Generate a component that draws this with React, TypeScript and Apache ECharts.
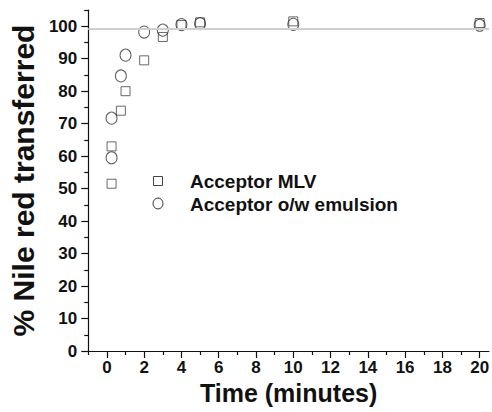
import React, { useEffect, useRef } from "react";
import * as echarts from "echarts";

const timeMLV = [0.25, 0.25, 0.75, 1, 2, 3, 4, 5, 10, 20];
const valuesMLV = [51.5, 63, 74, 80, 89.5, 96.7, 100.4, 101.2, 101.5, 101];
const timeEmulsion = [0.25, 0.25, 0.75, 1, 2, 3, 4, 5, 10, 20];
const valuesEmulsion = [59.5, 71.7, 84.7, 91.1, 98.2, 98.8, 100.5, 100.8, 100.6, 100.3];
const referenceLevel = 99.3;
const xMajorTicks = [0, 2, 4, 6, 8, 10, 12, 14, 16, 18, 20];
const xMinorTicks = [-1, 1, 3, 5, 7, 9, 11, 13, 15, 17, 19];
const yMajorTicks = [0, 10, 20, 30, 40, 50, 60, 70, 80, 90, 100];
const yMinorTicks = [5, 15, 25, 35, 45, 55, 65, 75, 85, 95, 105];
const legendNames = ["Acceptor MLV", "Acceptor o/w emulsion"];

const FONT = "'Liberation Sans', Arial, Helvetica, sans-serif";
const AXIS_COLOR = "#111";

export default function App() {
  const ref = useRef<HTMLDivElement>(null);
  useEffect(() => {
    if (!ref.current) return;
    const chart = echarts.init(ref.current, null, { renderer: "svg" });
    const grid = { left: 83, top: 10, width: 409, height: 341 };
    const baseX = {
      type: "value",
      min: -1,
      max: 20.5,
      gridIndex: 0,
      splitLine: { show: false },
    };
    const baseY = {
      type: "value",
      min: 0,
      max: 105,
      gridIndex: 0,
      splitLine: { show: false },
    };
    chart.setOption({
      animation: false,
      backgroundColor: "#fff",
      grid,
      xAxis: [
        {
          ...baseX,
          name: "Time (minutes)",
          nameLocation: "middle",
          nameGap: 25,
          nameTextStyle: { fontFamily: FONT, fontWeight: "bold", fontSize: 25, color: "#111" },
          axisLine: { show: true, onZero: false, lineStyle: { color: AXIS_COLOR, width: 1.2 } },
          axisTick: { show: true, inside: false, length: 7, customValues: xMajorTicks, lineStyle: { color: AXIS_COLOR, width: 1.2 } },
          axisLabel: {
            show: true,
            customValues: xMajorTicks,
            margin: 8,
            fontFamily: FONT,
            fontWeight: "bold",
            fontSize: 17,
            color: "#111",
          },
        },
        {
          ...baseX,
          position: "bottom",
          offset: 0,
          axisLine: { show: false, onZero: false },
          axisTick: { show: true, inside: false, length: 4, customValues: xMinorTicks, lineStyle: { color: AXIS_COLOR, width: 1.2 } },
          axisLabel: { show: false },
        },
      ],
      yAxis: [
        {
          ...baseY,
          name: "% Nile red transferred",
          nameLocation: "middle",
          nameGap: 43,
          nameTextStyle: { fontFamily: FONT, fontWeight: "bold", fontSize: 30, color: "#111" },
          axisLine: { show: true, onZero: false, lineStyle: { color: AXIS_COLOR, width: 1.2 } },
          axisTick: { show: true, inside: false, length: 7, customValues: yMajorTicks, lineStyle: { color: AXIS_COLOR, width: 1.2 } },
          axisLabel: {
            show: true,
            customValues: yMajorTicks,
            margin: 11,
            fontFamily: FONT,
            fontWeight: "bold",
            fontSize: 17,
            color: "#111",
          },
        },
        {
          ...baseY,
          position: "left",
          offset: 0,
          axisLine: { show: false, onZero: false },
          axisTick: { show: true, inside: false, length: 4, customValues: yMinorTicks, lineStyle: { color: AXIS_COLOR, width: 1.2 } },
          axisLabel: { show: false },
        },
      ],
      series: [
        {
          name: legendNames[0],
          type: "scatter",
          xAxisIndex: 0,
          yAxisIndex: 0,
          symbol: "rect",
          symbolSize: [9, 9],
          itemStyle: { color: "rgba(255,255,255,0)", borderColor: "#444", borderWidth: 1 },
          data: timeMLV.map((t, i) => [t, valuesMLV[i]]),
          markLine: {
            silent: true,
            symbol: "none",
            label: { show: false },
            lineStyle: { color: "#cfcfcf", width: 2, type: "solid" },
            data: [{ yAxis: referenceLevel }],
          },
          z: 3,
        },
        {
          name: legendNames[1],
          type: "scatter",
          xAxisIndex: 0,
          yAxisIndex: 0,
          symbol: "circle",
          symbolSize: [11, 12],
          itemStyle: { color: "rgba(255,255,255,0)", borderColor: "#333", borderWidth: 1 },
          data: timeEmulsion.map((t, i) => [t, valuesEmulsion[i]]),
          z: 3,
        },
      ],
      graphic: [
        {
          type: "rect",
          shape: { x: 153.5, y: 176.5, width: 9, height: 9 },
          style: { fill: "#fff", stroke: "#444", lineWidth: 1 },
        },
        {
          type: "text",
          x: 190,
          y: 181,
          style: {
            text: legendNames[0],
            fontFamily: FONT,
            fontWeight: "bold",
            fontSize: 19,
            fill: "#111",
            verticalAlign: "middle",
          },
        },
        {
          type: "ellipse",
          shape: { cx: 158, cy: 203.5, rx: 5, ry: 5.5 },
          style: { fill: "#fff", stroke: "#333", lineWidth: 1 },
        },
        {
          type: "text",
          x: 190,
          y: 204,
          style: {
            text: legendNames[1],
            fontFamily: FONT,
            fontWeight: "bold",
            fontSize: 19,
            fill: "#111",
            verticalAlign: "middle",
          },
        },
      ],
    });
    return () => chart.dispose();
  }, []);
  return (
    <div
      ref={ref}
      style={{ position: "fixed", left: 0, top: 0, width: 492, height: 412, background: "#fff" }}
    />
  );
}
